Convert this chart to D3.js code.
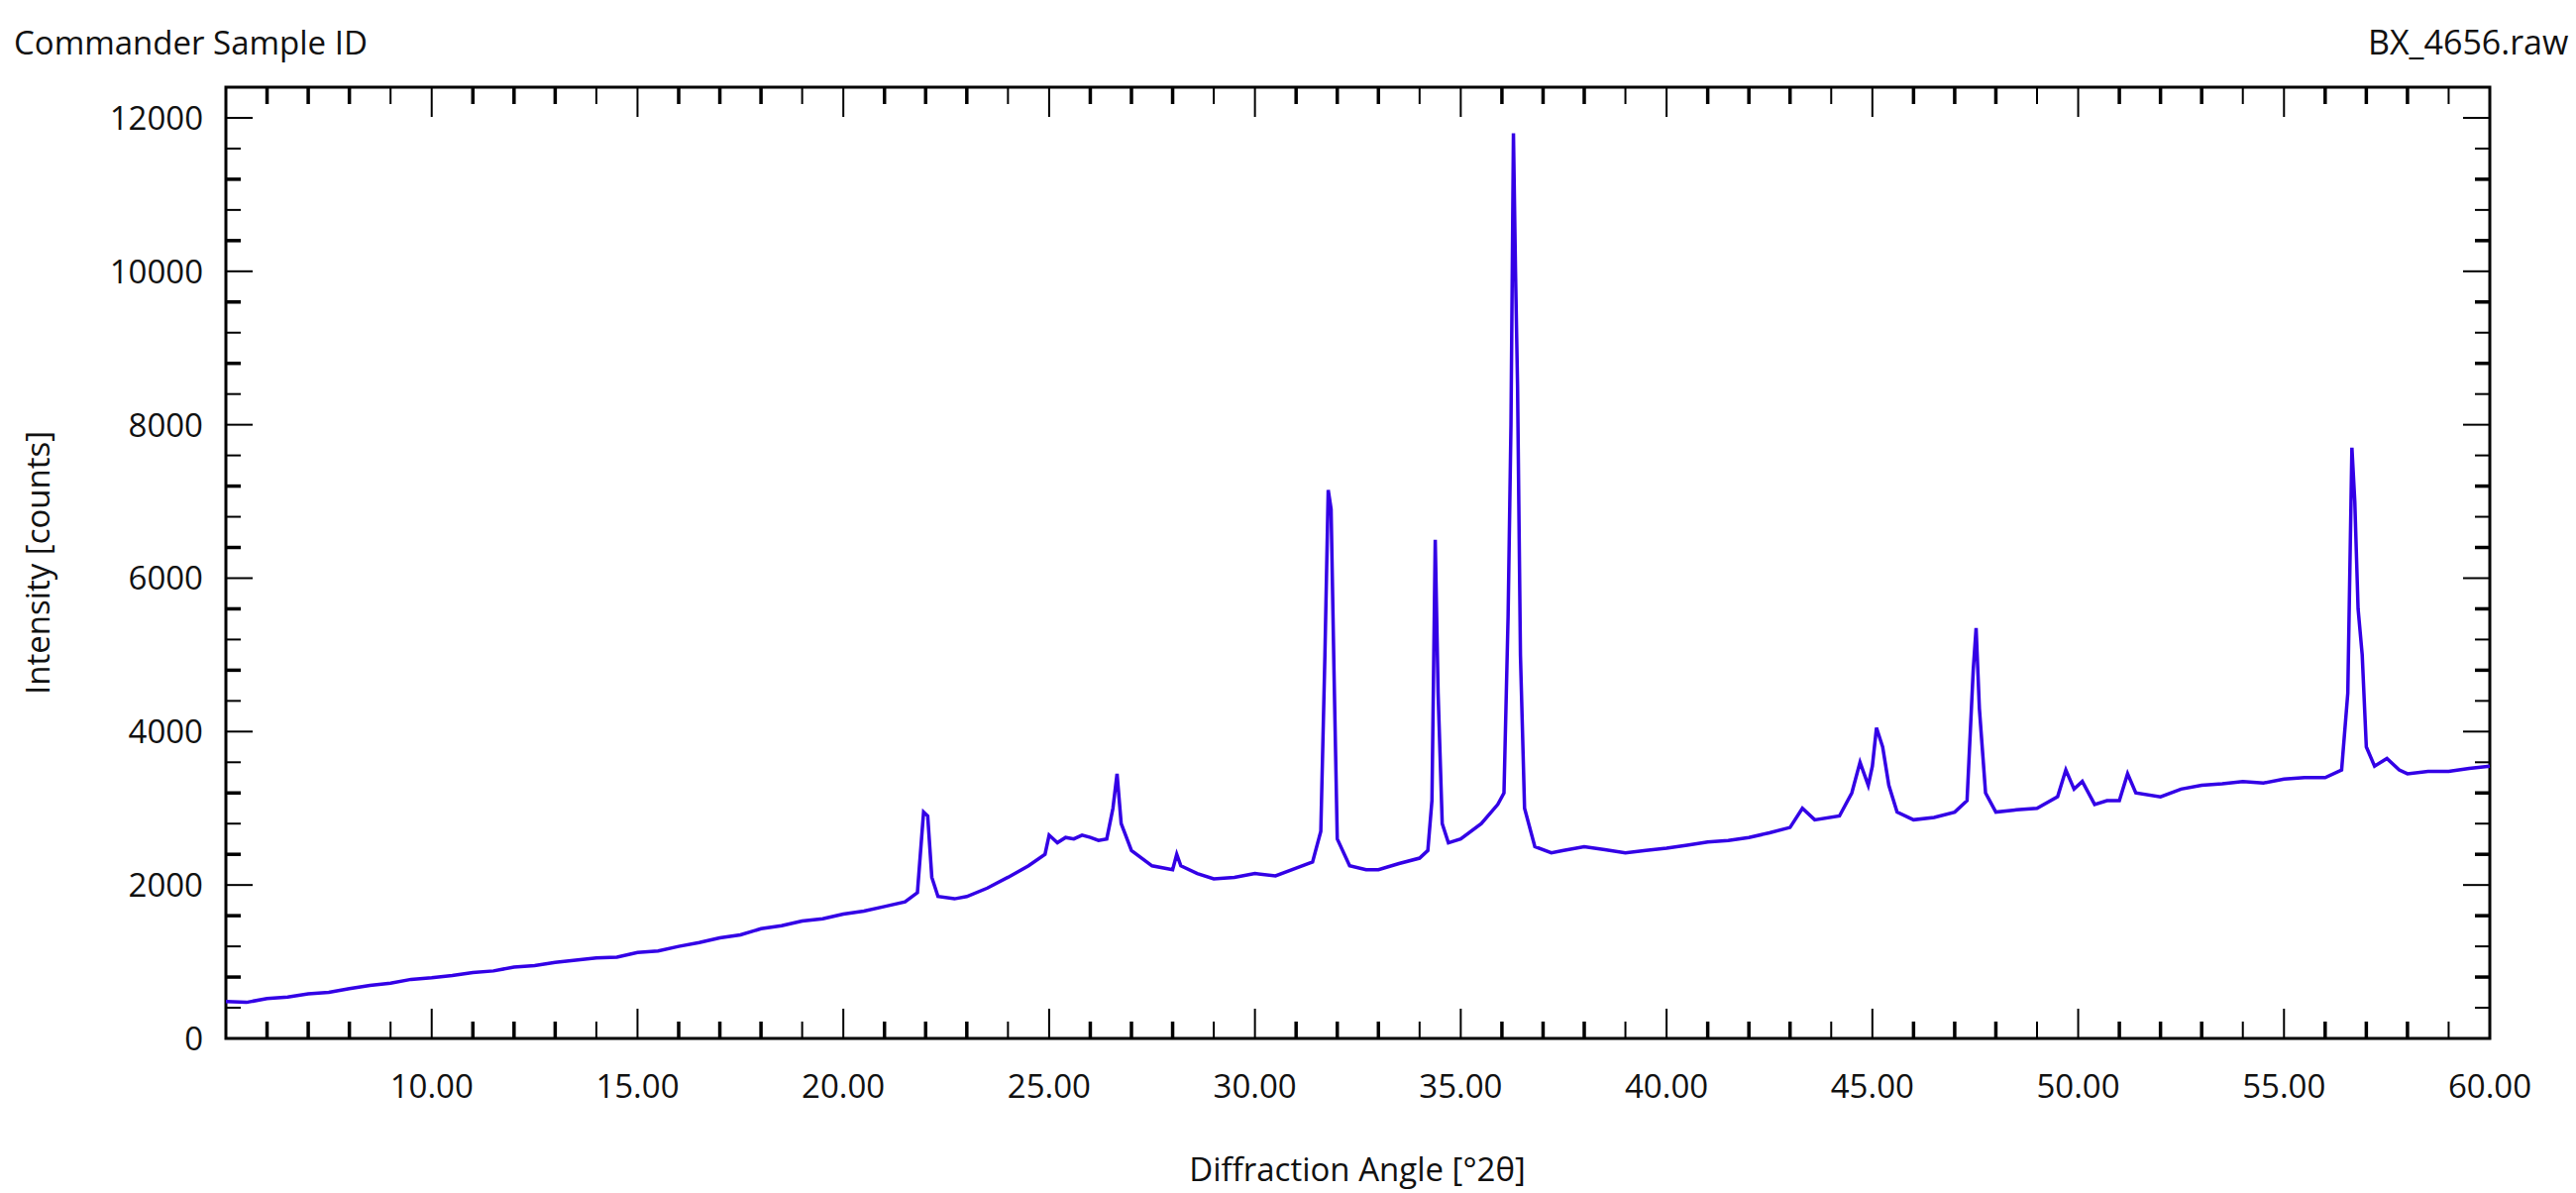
<!DOCTYPE html>
<html>
<head>
<meta charset="utf-8">
<title>BX_4656 diffraction pattern</title>
<script src="https://d3js.org/d3.v7.min.js"></script>
<style>
  body { margin: 0; background: #fff; overflow: hidden; }
  text { font-family: "Open Sans", "Noto Sans", sans-serif; fill: #111; }
</style>
</head>
<body>
<svg id="chart" width="2600" height="1204"></svg>
<script>
// diffraction angle [°2θ] and intensity [counts]
var angles = [5.0, 5.5, 6, 6.5, 7, 7.5, 8, 8.5, 9, 9.5, 10, 10.5, 11, 11.5, 12, 12.5, 13, 13.5, 14, 14.5, 15, 15.5,
  16, 16.5, 17, 17.5, 18, 18.5, 19, 19.5, 20, 20.5, 21, 21.5, 21.8, 21.95, 22.05, 22.15, 22.3,
  22.7, 23, 23.5, 24, 24.5, 24.9, 25.0, 25.2, 25.4, 25.6, 25.8, 26.0, 26.2, 26.4, 26.55, 26.65, 26.75, 27.0, 27.5, 28.0, 28.1, 28.2,
  28.6, 29, 29.5, 30, 30.5, 31, 31.4, 31.6, 31.7, 31.78, 31.85, 31.92, 32.0, 32.3, 32.7, 33, 33.5, 34.0, 34.2, 34.3, 34.38, 34.45,
  34.55, 34.7, 35, 35.5, 35.9, 36.05, 36.15, 36.22, 36.28, 36.33, 36.38, 36.45, 36.55, 36.8, 37.2, 37.5, 38, 38.5, 39, 39.5, 40,
  40.5, 41, 41.5, 42, 42.5, 43, 43.3, 43.6, 44.2, 44.5, 44.7, 44.9, 45.0, 45.1, 45.25, 45.4, 45.6, 46, 46.5, 47, 47.3, 47.45, 47.52,
  47.6, 47.75, 48, 48.5, 49, 49.5, 49.7, 49.9, 50.1, 50.4, 50.7, 51, 51.2, 51.4, 52, 52.5, 53, 53.5, 54, 54.5, 55, 55.5, 56, 56.4, 56.55,
  56.65, 56.72, 56.8, 56.9, 57.0, 57.2, 57.5, 57.8, 58, 58.5, 59, 59.5, 60];
var counts = [480, 470, 520, 540, 580, 600, 650, 690, 720, 770, 790, 820, 860, 880, 930, 950, 990, 1020, 1050, 1060, 1120, 1140,
  1200, 1250, 1310, 1350, 1430, 1470, 1530, 1560, 1620, 1660, 1720, 1780, 1900, 2950, 2900, 2100, 1850,
  1820, 1850, 1960, 2100, 2250, 2400, 2650, 2550, 2620, 2600, 2650, 2620, 2580, 2600, 3000, 3450, 2800, 2450, 2250, 2200, 2400, 2250,
  2150, 2080, 2100, 2150, 2120, 2220, 2300, 2700, 5000, 7150, 6900, 4800, 2600, 2250, 2200, 2200, 2280, 2350, 2450, 3100, 6500, 4500,
  2800, 2550, 2600, 2800, 3050, 3200, 5500, 8000, 11800, 10000, 8500, 5000, 3000, 2500, 2420, 2450, 2500, 2460, 2420, 2450, 2480,
  2520, 2560, 2580, 2620, 2680, 2750, 3000, 2850, 2900, 3200, 3600, 3300, 3550, 4050, 3800, 3300, 2950, 2850, 2880, 2950, 3100, 4800, 5350,
  4300, 3200, 2950, 2980, 3000, 3150, 3500, 3250, 3350, 3050, 3100, 3100, 3450, 3200, 3150, 3250, 3300, 3320, 3350, 3330, 3380, 3400, 3400, 3500, 4500,
  7700, 7000, 5600, 5000, 3800, 3550, 3650, 3500, 3450, 3480, 3480, 3520, 3550];
var xTickLabels = ["10.00", "15.00", "20.00", "25.00", "30.00", "35.00", "40.00", "45.00", "50.00", "55.00", "60.00"];
var yTickLabels = ["0", "2000", "4000", "6000", "8000", "10000", "12000"];

var L = 228, R = 2513, T = 88, B = 1048;
var svg = d3.select("#chart");
var x = d3.scaleLinear().domain([5, 60]).range([L, R]);
var y = d3.scaleLinear().domain([0, 12400]).range([B, T]);

// minor / major ticks, drawn inside on all four sides
var g = svg.append("g").attr("stroke", "#000");
var xMinor = d3.range(6, 60, 1), yMinor = d3.range(400, 12400, 400);
xMinor.forEach(function (v, i) {
  var major = v % 5 === 0, len = major ? 30 : 17, w = major ? 2 : (i % 5 < 3 ? 3.5 : 2);
  g.append("line").attr("x1", x(v)).attr("x2", x(v)).attr("y1", B).attr("y2", B - len).attr("stroke-width", w);
  g.append("line").attr("x1", x(v)).attr("x2", x(v)).attr("y1", T).attr("y2", T + len).attr("stroke-width", w);
});
yMinor.forEach(function (v, i) {
  var major = v % 2000 === 0, len = major ? 27 : 15, w = major ? 2 : (i % 2 ? 3.5 : 2);
  g.append("line").attr("x1", L).attr("x2", L + len).attr("y1", y(v)).attr("y2", y(v)).attr("stroke-width", w);
  g.append("line").attr("x1", R).attr("x2", R - len).attr("y1", y(v)).attr("y2", y(v)).attr("stroke-width", w);
});

svg.append("rect").attr("x", L).attr("y", T).attr("width", R - L).attr("height", B - T)
  .attr("fill", "none").attr("stroke", "#000").attr("stroke-width", 3);

// tick labels
svg.selectAll(".xl").data(xTickLabels).enter().append("text")
  .attr("x", function (d) { return x(+d); }).attr("y", 1108)
  .attr("text-anchor", "middle").attr("font-size", 33).text(function (d) { return d; });
svg.selectAll(".yl").data(yTickLabels).enter().append("text")
  .attr("x", 205).attr("y", function (d) { return y(+d) + 12; })
  .attr("text-anchor", "end").attr("font-size", 33).text(function (d) { return d; });

// data line
var line = d3.line().x(function (d) { return x(d[0]); }).y(function (d) { return y(d[1]); });
svg.append("path").datum(d3.zip(angles, counts)).attr("d", line)
  .attr("fill", "none").attr("stroke", "#3300e6").attr("stroke-width", 3.5);

// titles
svg.append("text").attr("x", 14).attr("y", 55).attr("font-size", 33).text("Commander Sample ID");
svg.append("text").attr("x", 2390).attr("y", 55).attr("font-size", 34).text("BX_4656.raw");
svg.append("text").attr("x", 1370).attr("y", 1192).attr("text-anchor", "middle").attr("font-size", 33)
  .text("Diffraction Angle [°2θ]");
svg.append("text").attr("transform", "translate(50,568) rotate(-90)").attr("text-anchor", "middle")
  .attr("font-size", 33).text("Intensity [counts]");
</script>
</body>
</html>
